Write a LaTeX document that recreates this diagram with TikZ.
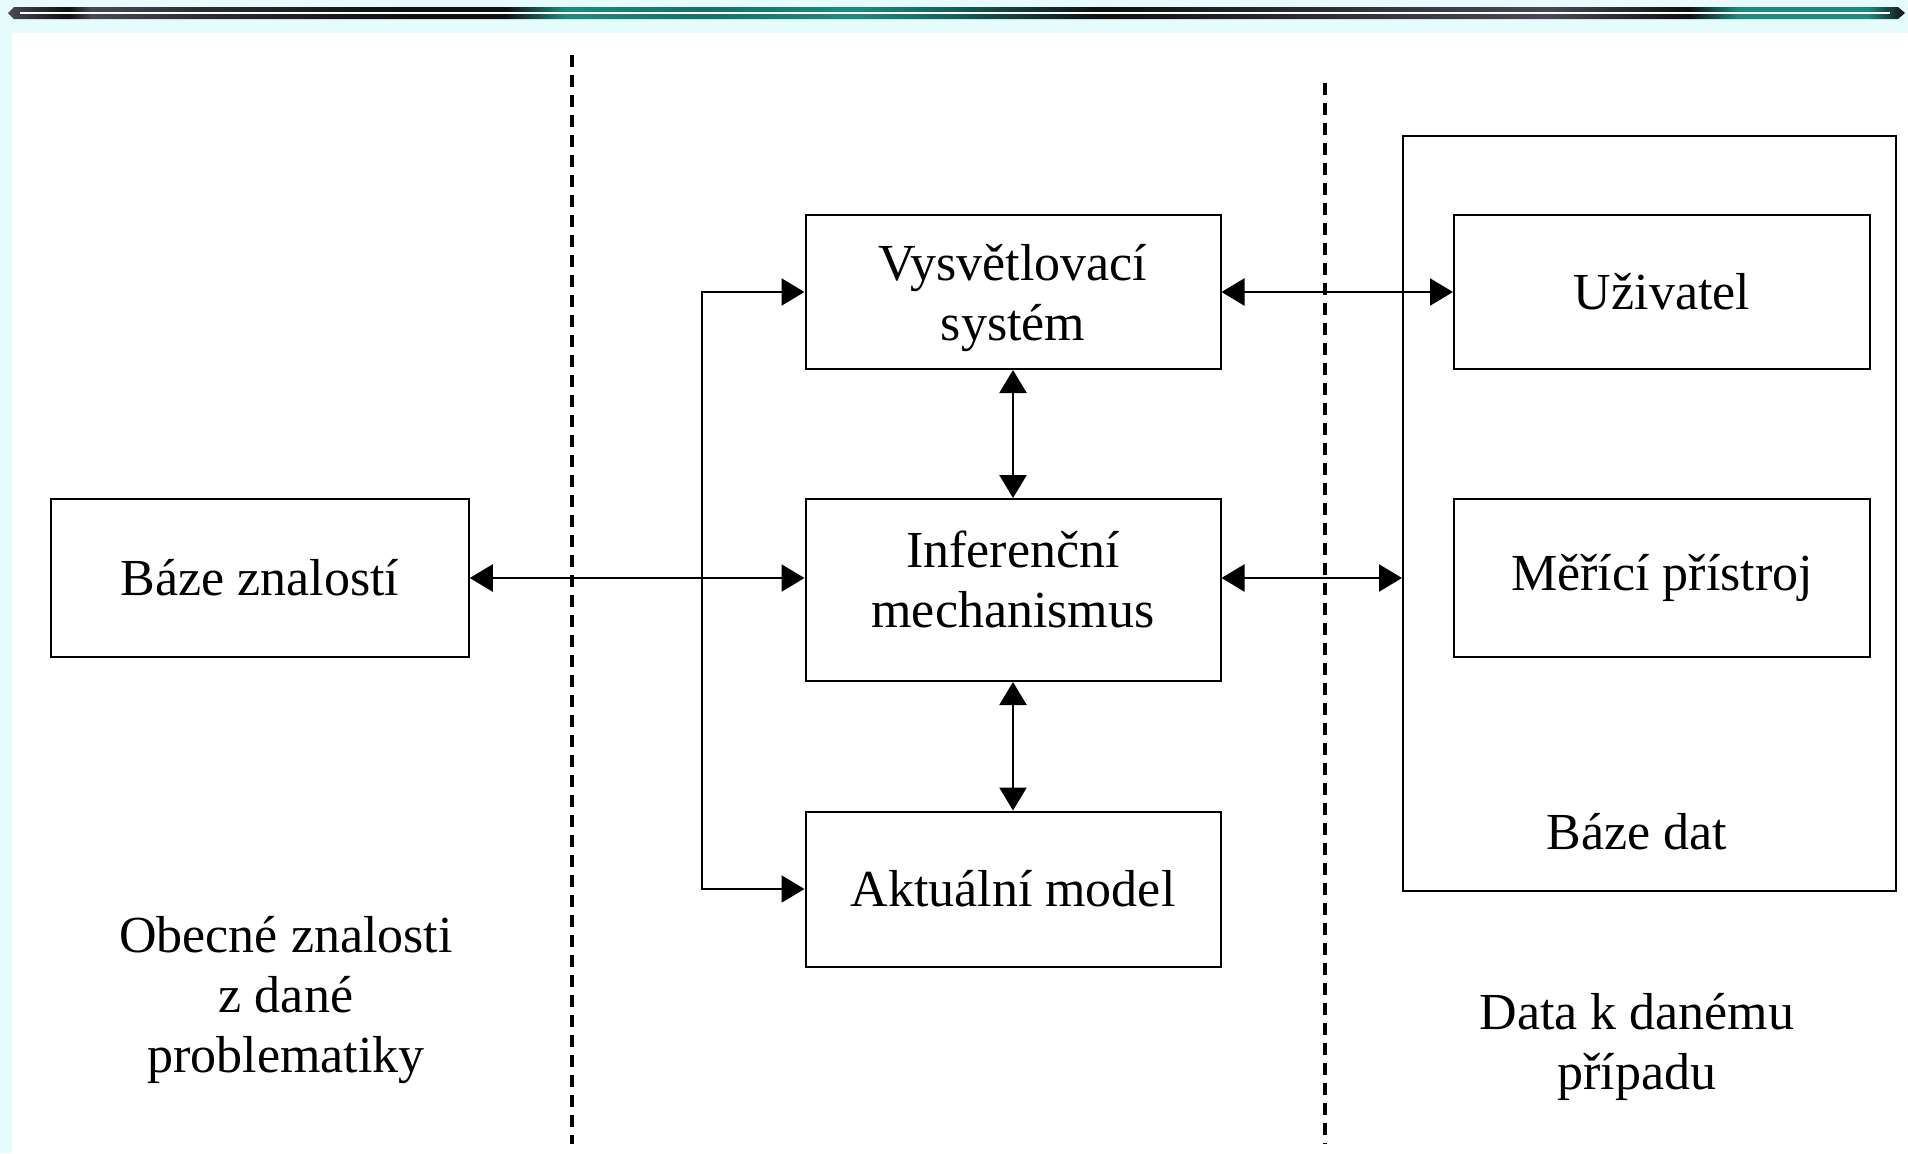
\documentclass[tikz,border=0pt]{standalone}
\usepackage{fontspec}
\setmainfont{Liberation Serif}
\usetikzlibrary{arrows.meta,calc}
\definecolor{bgcyan}{RGB}{230,251,252}
\definecolor{barteal}{RGB}{31,138,130}
\definecolor{bardteal}{RGB}{22,112,104}
\definecolor{bargray}{RGB}{74,72,88}
\definecolor{bardark}{RGB}{16,16,16}
\pgfdeclarehorizontalshading{topbar}{100bp}{%
 color(0bp)=(bargray); color(25bp)=(bargray); color(26.6bp)=(bardark); color(27.2bp)=(bargray);
 color(30.2bp)=(bargray!60!black);
 color(35.5bp)=(bardark); color(38.1bp)=(bardark); color(39.7bp)=(barteal);
 color(43.3bp)=(bardteal); color(47.3bp)=(barteal); color(49.9bp)=(barteal!70!black);
 color(53.8bp)=(bardark); color(59.1bp)=(bargray!60!black); color(65.6bp)=(bargray);
 color(69.3bp)=(bardark); color(70.6bp)=(barteal); color(74bp)=(barteal); color(75bp)=(bardark); color(100bp)=(bardark)}
\begin{document}
\begin{tikzpicture}[x=0.5pt,y=-0.5pt,
  box/.style={draw=black,line width=1pt,rectangle,inner sep=0pt,align=center,
    font=\fontsize{26}{30}\selectfont,fill=white},
  lbl/.style={align=center,font=\fontsize{26}{30}\selectfont,inner sep=0pt},
  tip/.style={},
  arr/.style={line width=1.2pt,{Triangle[length=11.5pt,width=13.5pt]}-{Triangle[length=11.5pt,width=13.5pt]}},
  onearr/.style={line width=1.1pt,-{Triangle[length=11.5pt,width=13.5pt]}},
  sep/.style={line width=1.6pt,dash pattern=on 6pt off 4pt}]
\useasboundingbox (0,0) rectangle (1908,1153);
\fill[bgcyan] (0,0) rectangle (1908,1153);
\fill[white] (12,33) rectangle (1908,1153);
% top bar
\shade[shading=topbar] (8,13) -- (14,7) -- (1898,7) -- (1905,13) -- (1898,19) -- (14,19) -- cycle;
\draw[line width=1.1pt,white!85!bgcyan] (20,13) -- (1890,13);
% separators
\draw[sep] (572,55) -- (572,1144);
\draw[sep] (1325,83) -- (1325,1144);
% nodes
\node[box,fill=none,minimum width=246.5pt,minimum height=377.5pt] (bd) at (1649.5,513.5) {};
\node[box,minimum width=207.5pt,minimum height=77pt,
  label={[lbl,yshift=-3pt]center:Vysvětlovací\\systém}] (vys) at (1013,292) {};
\node[box,minimum width=207.5pt,minimum height=91pt,
  label={[lbl,yshift=5.5pt]center:Inferenční\\mechanismus}] (inf) at (1013,590) {};
\node[box,minimum width=207.5pt,minimum height=77.5pt] (akt) at (1013,889) {Aktuální model};
\node[box,minimum width=208.75pt,minimum height=79pt] (bz) at (260,578) {Báze znalostí};
\node[box,minimum width=208pt,minimum height=77pt] (uz) at (1662,292) {Uživatel};
\node[box,minimum width=208pt,minimum height=79pt] (mp) at (1662,578) {Měřící přístroj};
\node[lbl] (bdl) at (1637,832) {Báze dat};
\node[lbl] (obec) at (286,1000) {Obecné znalosti\\z dané\\problematiky};
\node[lbl] (datak) at (1637,1047) {Data k danému\\případu};
% connectors
\coordinate (fb) at (702,578);
\draw[arr] (bz.east) -- (bz.east -| inf.west);
\draw[arr] (inf.east |- bz.east) -- (bd.west |- bz.east);
\draw[arr] (vys.east) -- (uz.west);
\draw[arr] (vys.south) -- (inf.north);
\draw[arr] (inf.south) -- (akt.north);
\draw[onearr] (fb) -- (fb |- vys.west) -- (vys.west);
\draw[onearr] (fb) -- (fb |- akt.west) -- (akt.west);
\end{tikzpicture}
\end{document}
